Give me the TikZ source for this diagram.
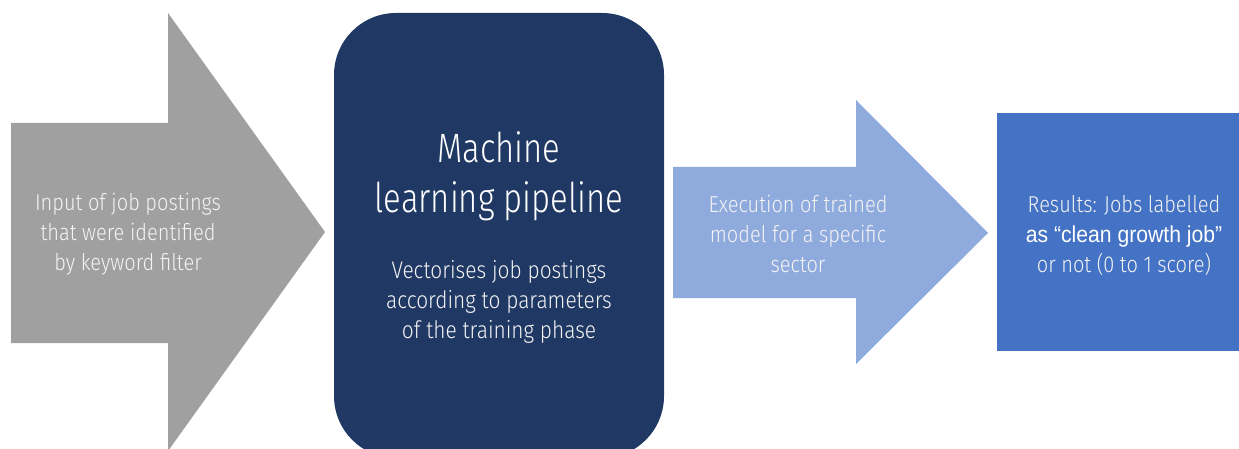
\documentclass[tikz,border=0pt]{standalone}
\usepackage{fontspec}
\setmainfont{Fira Sans}[UprightFont=* Light, BoldFont=*, FakeStretch=0.87]
\newfontfamily\headfont{Fira Sans}[UprightFont=* Light, FakeStretch=0.8]
\newfontfamily\strongfont{Liberation Sans}[FakeStretch=0.92]
\definecolor{stepgray}{HTML}{A0A0A0}
\definecolor{navy}{HTML}{203864}
\definecolor{paleblue}{HTML}{8FAADC}
\definecolor{midblue}{HTML}{4472C4}
\definecolor{softwhite}{HTML}{F4F4F4}
\begin{document}
\begin{tikzpicture}[x=1pt,y=-1pt,
  bodytext/.style={align=center, text=softwhite, font=\fontsize{23}{30}\selectfont, inner sep=0pt},
  titletext/.style={align=center, text=white, font=\headfont\fontsize{41}{50}\selectfont, inner sep=0pt}]
\useasboundingbox (0,0) rectangle (1239,449);
\clip (0,0) rectangle (1239,449);
% input arrow
\fill[stepgray] (11,123) -- (168,123) -- (168,13) -- (325,232) -- (168,451) -- (168,343) -- (11,343) -- cycle;
% pipeline box
\fill[navy, rounded corners=62pt] (334,13) rectangle (664,458);
% execution arrow
\fill[paleblue] (673,167) -- (856,167) -- (856,100) -- (988,233) -- (856,364) -- (856,298) -- (673,298) -- cycle;
% results box
\fill[midblue] (997,113) rectangle (1239,351);
% labels (anchored at the baseline of their last line)
\node[bodytext, anchor=base] (input) at (128,270) {Input of job postings\\that were identified\\by keyword filter};
\node[titletext, anchor=base] (pipe) at (499,212) {Machine\\learning pipeline};
\node[bodytext, anchor=base, font=\fontsize{24}{30}\selectfont] (vect) at (499,338) {Vectorises job postings\\according to parameters\\of the training phase};
\node[bodytext, anchor=base] (exec) at (798,272) {Execution of trained\\model for a specific\\sector};
\node[bodytext, anchor=base] (res) at (1124,272) {Results: Jobs labelled\\{\strongfont\color{white}as “clean growth job”}\\or not (0 to 1 score)};
\end{tikzpicture}
\end{document}
